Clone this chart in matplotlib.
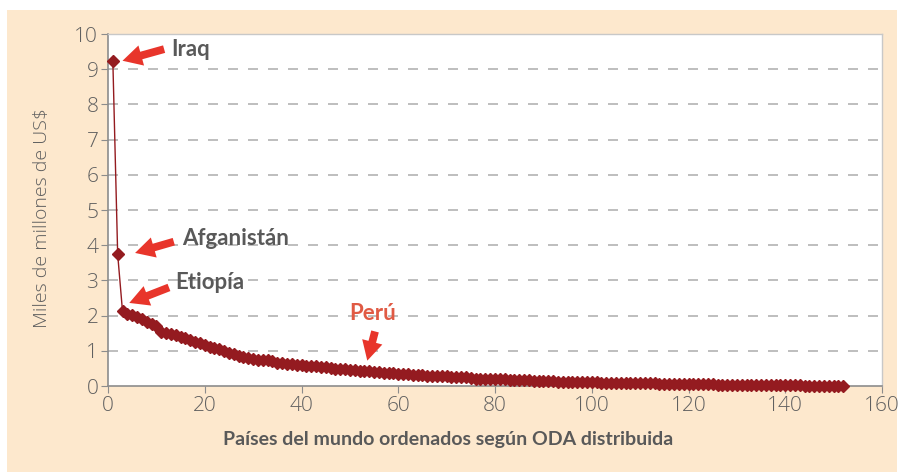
import numpy as np
import matplotlib.pyplot as plt
from matplotlib.patches import Rectangle

# ODA recibida por país, ordenada de mayor a menor (miles de millones de US$)
oda = [
    9.24, 3.74, 2.12, 2.05, 2.01, 1.96, 1.90, 1.83, 1.76, 1.70,
    1.53, 1.50, 1.47, 1.44, 1.40, 1.35, 1.31, 1.26, 1.21, 1.16,
    1.12, 1.08, 1.04, 0.99, 0.95, 0.90, 0.86, 0.82, 0.79, 0.76,
    0.74, 0.73, 0.73, 0.72, 0.66, 0.64, 0.63, 0.62, 0.61, 0.60,
    0.58, 0.57, 0.56, 0.55, 0.53, 0.50, 0.49, 0.48, 0.47, 0.46,
    0.45, 0.44, 0.43, 0.42, 0.41, 0.39, 0.38, 0.37, 0.36, 0.35,
    0.34, 0.33, 0.32, 0.31, 0.30, 0.29, 0.28, 0.28, 0.27, 0.27,
    0.26, 0.26, 0.25, 0.25, 0.22, 0.21, 0.21, 0.20, 0.20, 0.20,
    0.19, 0.19, 0.18, 0.18, 0.17, 0.17, 0.16, 0.15, 0.14, 0.14,
    0.13, 0.13, 0.12, 0.12, 0.11, 0.11, 0.10, 0.10, 0.10, 0.10,
    0.10, 0.09, 0.09, 0.09, 0.09, 0.09, 0.09, 0.08, 0.08, 0.08,
    0.08, 0.08, 0.08, 0.05, 0.05, 0.05, 0.05, 0.05, 0.05, 0.05,
    0.05, 0.05, 0.05, 0.05, 0.05, 0.04, 0.04, 0.04, 0.04, 0.04,
    0.04, 0.04, 0.04, 0.04, 0.04, 0.04, 0.02, 0.02, 0.02, 0.02,
    0.02, 0.02, 0.02, 0.01, 0.01, 0.01, 0.01, 0.01, 0.01, 0.01,
    0.01, 0.01,
]
rank = np.arange(1, len(oda) + 1)

xticks = [0, 20, 40, 60, 80, 100, 120, 140, 160]
yticks = list(range(0, 11))

# etiquetas: (texto, posición del texto, cola de flecha, punta de flecha, color)
labels = [
    ("Iraq", (13.0, 9.55), (11.6, 9.57), (3.0, 9.24), "#595959"),
    ("Afganistán", (15.3, 4.2), (13.6, 4.1), (5.6, 3.78), "#595959"),
    ("Etiopía", (13.9, 2.95), (12.6, 2.8), (4.4, 2.36), "#595959"),
]

dark_red = "#941B20"
arrow_red = "#E8352B"
grey = "#595959"
cream = "#FDE8CD"
label_font = ['Lato', 'DejaVu Sans']

plt.rcParams['font.family'] = ['Open Sans', 'DejaVu Sans']

fig = plt.figure(figsize=(8.99, 4.72), dpi=100)
fig.patch.set_facecolor("white")
fig.patches.append(Rectangle((7 / 899, 0), 890 / 899, 462 / 472,
                             transform=fig.transFigure, facecolor=cream,
                             edgecolor="none", zorder=-10))

ax = fig.add_axes([108 / 899, 1 - 386 / 472, 774 / 899, 352 / 472])
ax.set_facecolor("white")

ax.plot(rank, oda, color=dark_red, lw=1, marker="D", ms=6.5,
        markeredgecolor=dark_red, markerfacecolor=dark_red, zorder=3,
        clip_on=False)

ax.set_xlim(0, 160)
ax.set_ylim(0, 10)
ax.set_xticks(xticks)
ax.set_yticks(yticks)
ax.tick_params(axis="both", direction="out", length=5, color="#8c8c8c",
               labelsize=15, labelcolor="#606060", pad=2)
for lbl in ax.get_xticklabels() + ax.get_yticklabels():
    lbl.set_fontweight("light")

for y in range(1, 10):
    ax.axhline(y, color="#b3b3b3", lw=1.2, ls=(0, (6, 6)), zorder=1)

for side in ["left", "bottom"]:
    ax.spines[side].set_color("#8c8c8c")
    ax.spines[side].set_linewidth(1.2)
for side in ["top", "right"]:
    ax.spines[side].set_color("#c8c8c8")
    ax.spines[side].set_linewidth(1.0)

arrow_kw = dict(arrowstyle="simple,head_width=0.75,head_length=0.7,tail_width=0.28",
                color=arrow_red, lw=0, mutation_scale=20, shrinkA=0, shrinkB=0)

for text, pos, tail, head, col in labels:
    ax.text(pos[0], pos[1], text, color=col, fontsize=16, fontweight="bold",
            va="center", ha="left", family=label_font)
    ax.annotate("", xy=head, xytext=tail, arrowprops=arrow_kw)

ax.text(54.8, 2.07, "Perú", color="#E05A44", fontsize=16, fontweight="bold",
        va="center", ha="center", family=label_font)
ax.annotate("", xy=(53.6, 0.72), xytext=(55.2, 1.55), arrowprops=arrow_kw)

fig.text(448 / 899, 1 - 440 / 472, "Países del mundo ordenados según ODA distribuida",
         ha="center", va="center", fontsize=14, fontweight="bold", color=grey,
         family=label_font)
fig.text(42 / 899, 1 - 218 / 472, "Miles de millones de US$", rotation=90,
         ha="center", va="center", fontsize=14, color="#606060", fontweight="light")

fig.savefig("out.png", dpi=100, facecolor=fig.get_facecolor())
